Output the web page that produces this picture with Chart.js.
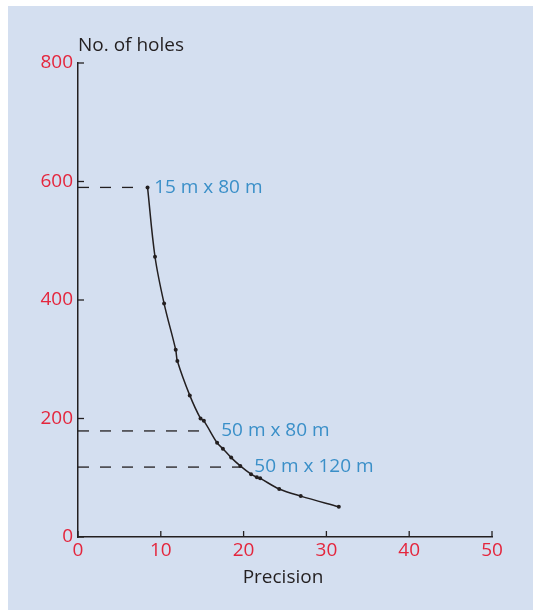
<!DOCTYPE html>
<html>
<head>
<meta charset="utf-8">
<script src="https://cdn.jsdelivr.net/npm/chart.js@4"></script>
<style>
  body { margin: 0; background: #ffffff; }
  #panel { position: absolute; left: 8px; top: 6px; width: 525px; height: 604px; background: #d4dff0; }
  #wrap { position: absolute; left: 0; top: 0; width: 533px; height: 610px; }
</style>
</head>
<body>
<div id="panel"></div>
<div id="wrap"><canvas id="holesChart" width="533" height="610"></canvas></div>
<script>
// precision vs number of drill holes
const precision = [8.4, 9.3, 10.4, 11.8, 12.0, 13.5, 14.8, 15.2, 16.8, 17.5, 18.5, 19.6, 20.9, 21.6, 22.0, 24.3, 26.9, 31.5];
const holes = [590, 473, 394, 316, 297, 239, 200, 196, 159, 149, 134, 120, 106, 101, 99, 81, 69, 51];

// grid spacings marked with dashed guide lines
const gridLabels = ['15 m x 80 m', '50 m x 80 m', '50 m x 120 m'];
const gridHoles = [590, 179, 118];
const guideEnd = [7.7, 14.9, 19.8];
const labelAt = [9.2, 17.3, 21.3];

const xTicks = [0, 10, 20, 30, 40, 50];
const yTicks = [0, 200, 400, 600, 800];

const red = '#e4263d';
const blue = '#3a8fc8';
const ink = '#231f20';
const font = '"Open Sans", sans-serif';

const datasets = [{
    label: 'No. of holes',
    data: precision.map((p, i) => ({ x: p, y: holes[i] })),
    borderColor: ink,
    backgroundColor: ink,
    borderWidth: 1.5,
    pointRadius: 2,
    pointBorderWidth: 0,
    tension: 0.35
}];

gridHoles.forEach((h, i) => {
    datasets.push({
        label: gridLabels[i],
        data: [{ x: 0, y: h }, { x: guideEnd[i], y: h }],
        borderColor: ink,
        borderWidth: 1.3,
        borderDash: [11, 11],
        pointRadius: 0
    });
});

// ticks pointing inward, axis titles and guide labels
const extras = {
    id: 'extras',
    afterDraw(chart) {
        const ctx = chart.ctx;
        const xs = chart.scales.x;
        const ys = chart.scales.y;
        const area = chart.chartArea;
        ctx.save();
        ctx.strokeStyle = ink;
        ctx.lineWidth = 1.3;
        xTicks.forEach(t => {
            const px = xs.getPixelForValue(t);
            ctx.beginPath();
            ctx.moveTo(px, area.bottom);
            ctx.lineTo(px, area.bottom - 6);
            ctx.stroke();
        });
        yTicks.forEach(t => {
            const py = ys.getPixelForValue(t);
            ctx.beginPath();
            ctx.moveTo(area.left, py);
            ctx.lineTo(area.left + 6, py);
            ctx.stroke();
        });

        ctx.font = '19px ' + font;
        ctx.fillStyle = ink;
        ctx.textBaseline = 'middle';
        ctx.textAlign = 'left';
        ctx.fillText('No. of holes', area.left, 46);
        ctx.textAlign = 'center';
        ctx.fillText('Precision', (area.left + area.right) / 2 - 2, 578);

        ctx.fillStyle = blue;
        ctx.textAlign = 'left';
        gridLabels.forEach((txt, i) => {
            ctx.fillText(txt, xs.getPixelForValue(labelAt[i]), ys.getPixelForValue(gridHoles[i]));
        });
        ctx.restore();
    }
};

const ctx = document.getElementById('holesChart').getContext('2d');
new Chart(ctx, {
    type: 'line',
    data: { datasets: datasets },
    options: {
        responsive: false,
        animation: false,
        layout: { padding: { left: 0, top: 63, right: 41, bottom: 0 } },
        plugins: { legend: { display: false }, tooltip: { enabled: false } },
        scales: {
            x: {
                type: 'linear',
                min: 0,
                max: 50,
                afterFit: s => { s.height = 73; },
                afterBuildTicks: s => { s.ticks = xTicks.map(v => ({ value: v })); },
                grid: { display: false, drawTicks: false },
                border: { display: true, color: ink, width: 1.5 },
                ticks: { color: red, padding: 2, font: { family: font, size: 19 } }
            },
            y: {
                type: 'linear',
                min: 0,
                max: 800,
                afterFit: s => { s.width = 78; },
                afterBuildTicks: s => { s.ticks = yTicks.map(v => ({ value: v })); },
                grid: { display: false, drawTicks: false },
                border: { display: true, color: ink, width: 1.5 },
                ticks: { color: red, padding: 5, font: { family: font, size: 19 } }
            }
        }
    },
    plugins: [extras]
});
</script>
</body>
</html>
